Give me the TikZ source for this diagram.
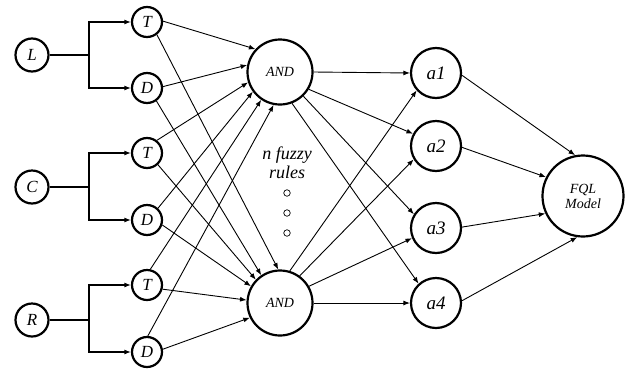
\documentclass[tikz,border=0pt]{standalone}
\usepackage{fontspec}
\setmainfont{Liberation Serif}
\usetikzlibrary{arrows.meta}
\begin{document}
\begin{tikzpicture}[x=1pt,y=-1pt,
 nd/.style={circle,draw,line width=2.2pt,inner sep=0pt,font=\itshape\fontsize{17}{17}\selectfont},
 inp/.style={nd,minimum size=33pt},
 td/.style={nd,minimum size=30pt},
 andn/.style={nd,minimum size=65pt,font=\itshape\fontsize{14}{14}\selectfont},
 an/.style={nd,minimum size=50pt,font=\itshape\fontsize{19}{19}\selectfont},
 fqln/.style={nd,minimum size=81pt,font=\itshape\fontsize{14}{15}\selectfont,align=center},
 arr/.style={-{Latex[length=6.5pt,width=5pt]},line width=0.9pt},
 elb/.style={line width=1.8pt},
 elbarr/.style={elb,-{Latex[length=6.5pt,width=5pt]}},
 dotn/.style={circle,draw,line width=0.7pt,minimum size=6.5pt,inner sep=0pt}
]
\useasboundingbox (0,0) rectangle (631,370);

% input nodes
\node[inp] (L) at (32,55) {L};
\node[inp] (C) at (32,187) {C};
\node[inp] (R) at (32,320) {R};

\node[td] (T1) at (147,22) {T};
\node[td] (D1) at (147,88) {D};
\node[td] (T2) at (147,153) {T};
\node[td] (D2) at (147,220) {D};
\node[td] (T3) at (147,285) {T};
\node[td] (D3) at (147,352) {D};

\node[andn] (and1) at (280,72) {AND};
\node[andn] (and2) at (280,303) {AND};

\node[an] (a1) at (436,73) {a1};
\node[an] (a2) at (436,146) {a2};
\node[an] (a3) at (436,228) {a3};
\node[an] (a4) at (436,303) {a4};

\node[fqln] (fql) at (583,196) {FQL\\Model};

\node[font=\itshape\fontsize{18}{19}\selectfont,align=center] (rules) at (287,163) {n fuzzy\\rules};
\node[dotn] (dt1) at (287,193) {};
\node[dotn] (dt2) at (287,213) {};
\node[dotn] (dt3) at (287,233) {};

% elbows
\coordinate (jL) at (89,55);
\coordinate (jC) at (89,187);
\coordinate (jR) at (89,320);
\draw[elb] (L) -- (jL);
\draw[elbarr] (jL) |- (T1);
\draw[elbarr] (jL) |- (D1);
\draw[elb] (C) -- (jC);
\draw[elbarr] (jC) |- (T2);
\draw[elbarr] (jC) |- (D2);
\draw[elb] (R) -- (jR);
\draw[elbarr] (jR) |- (T3);
\draw[elbarr] (jR) |- (D3);

% inputs to AND1
\draw[arr] (T1.3) -- (and1.137);
\draw[arr] (D1.5) -- (and1.168);
\draw[arr] (T2.52) -- (and1.198);
\draw[arr] (D2.47) -- (and1.216);
\draw[arr] (T3.78) -- (and1.236);
\draw[arr] (D3.87) -- (and1.259);

% inputs to AND2
\draw[arr] (T1.-52) -- (and2.93);
\draw[arr] (D1.-54) -- (and2.124);
\draw[arr] (T2.-47) -- (and2.136);
\draw[arr] (D2.-18) -- (and2.150);
\draw[arr] (T3.-15) -- (and2.175);
\draw[arr] (D3.10) -- (and2.206);

% AND outputs
\draw[arr] (and1.0) -- (a1.180);
\draw[arr] (and1.-31) -- (a2.152);
\draw[arr] (and1.-46) -- (a3.148);
\draw[arr] (and1.-69) -- (a4.132);
\draw[arr] (and2.73) -- (a1.222);
\draw[arr] (and2.54) -- (a2.211);
\draw[arr] (and2.30) -- (a3.203);
\draw[arr] (and2.0) -- (a4.180);

% to FQL
\draw[arr] (a1.-5) -- (fql.101);
\draw[arr] (a2.-3) -- (fql.153);
\draw[arr] (a3.2) -- (fql.205);
\draw[arr] (a4.5) -- (fql.262);
\end{tikzpicture}
\end{document}
